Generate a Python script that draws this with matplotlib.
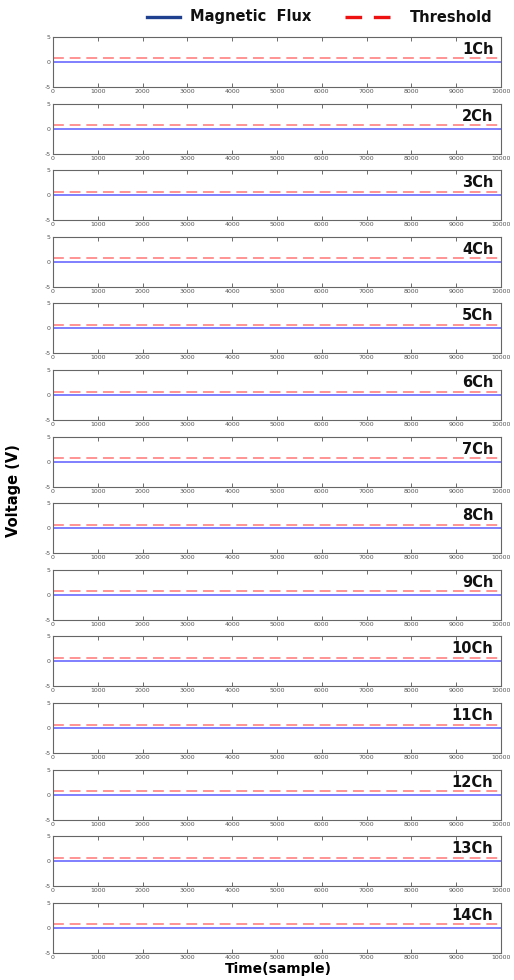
#!/usr/bin/env python3

import numpy as np
import matplotlib
matplotlib.use("Agg")
import matplotlib.pyplot as plt
from matplotlib.lines import Line2D

# channel names and per-channel levels
channels = ["1Ch", "2Ch", "3Ch", "4Ch", "5Ch", "6Ch", "7Ch",
            "8Ch", "9Ch", "10Ch", "11Ch", "12Ch", "13Ch", "14Ch"]
flux_level = [0.0, 0.0, 0.0, 0.0, 0.0, 0.0, 0.0,
              0.0, 0.0, 0.0, 0.0, 0.0, 0.0, 0.0]
threshold = [0.7, 0.7, 0.7, 0.7, 0.7, 0.7, 0.7,
             0.7, 0.7, 0.7, 0.7, 0.7, 0.7, 0.7]
n_samples = 10000
xticks = list(range(0, 10001, 1000))
yticks = [-5, 0, 5]


def main():
  plt.rcParams["axes.unicode_minus"] = False
  W, H = 514, 980
  fig = plt.figure(figsize=(W / 100, H / 100), dpi=100)

  left, right = 53, 501
  top0, ax_h, pitch = 37, 50, 66.6

  t = np.array([0, n_samples])

  for i, ch in enumerate(channels):
    top = top0 + i * pitch
    ax = fig.add_axes([left / W, 1 - (top + ax_h) / H, (right - left) / W, ax_h / H])
    ax.plot(t, [flux_level[i]] * 2, color="#7f7fff", lw=1.4)
    ax.plot(t, [threshold[i]] * 2, color="#ff8080", lw=1.2, ls=(0, (6.5, 3.5)))
    ax.set_xlim(0, n_samples)
    ax.set_ylim(-5, 5)
    ax.set_xticks(xticks)
    ax.set_yticks(yticks)
    ax.tick_params(direction="in", length=3, width=0.6, labelsize=4.5,
                   top=True, right=True, colors="#555555", pad=1.5)
    for s in ax.spines.values():
      s.set_color("#666666")
      s.set_linewidth(0.8)
    ax.text(0.983, 0.9, ch, transform=ax.transAxes, ha="right", va="top",
            fontsize=10.5, fontweight="bold", color="#111111")

  # legend on top, placed by hand
  y_leg = 1 - 17 / H
  fig.add_artist(Line2D([147 / W, 180 / W], [y_leg, y_leg], color="#1f3f8f", lw=2.4))
  fig.add_artist(Line2D([345 / W, 390 / W], [y_leg, y_leg], color="#ee1111", lw=2.4,
                        ls=(0, (5, 3.5))))
  fig.text(190 / W, y_leg, "Magnetic  Flux", ha="left", va="center",
           fontsize=10.5, fontweight="bold", color="#111111")
  fig.text(410 / W, y_leg, "Threshold", ha="left", va="center",
           fontsize=10.5, fontweight="bold", color="#111111")

  fig.text(14 / W, 1 - 491 / H, "Voltage (V)", rotation=90, ha="center",
           va="center", fontsize=10.5, fontweight="bold")
  fig.text(278 / W, 1 - 969 / H, "Time(sample)", ha="center", va="center",
           fontsize=10, fontweight="bold")

  fig.savefig("out.png", dpi=100)


if __name__ == "__main__":
  main()
